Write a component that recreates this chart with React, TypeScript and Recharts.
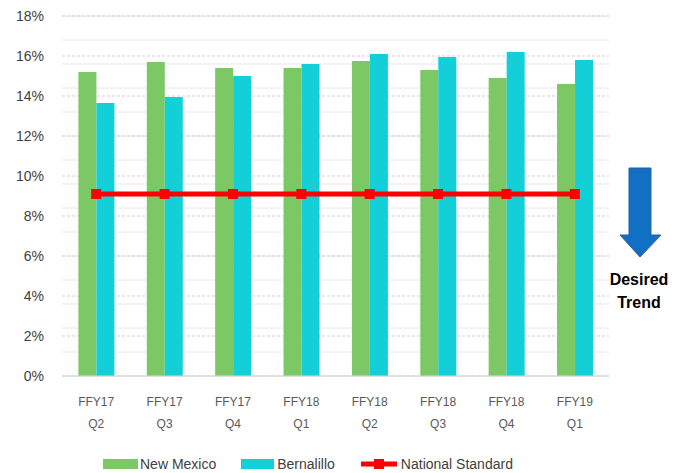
import React from 'react';
import { ComposedChart, Bar, Line, XAxis, YAxis, CartesianGrid, Legend, Customized } from 'recharts';

const quarters = ['FFY17 Q2', 'FFY17 Q3', 'FFY17 Q4', 'FFY18 Q1', 'FFY18 Q2', 'FFY18 Q3', 'FFY18 Q4', 'FFY19 Q1'];
const newMexico = [15.2, 15.7, 15.4, 15.4, 15.75, 15.3, 14.9, 14.6];
const bernalillo = [13.65, 13.95, 15.0, 15.6, 16.1, 15.95, 16.2, 15.8];
const nationalStandard = [9.1, 9.1, 9.1, 9.1, 9.1, 9.1, 9.1, 9.1];
const yTicks = [0, 2, 4, 6, 8, 10, 12, 14, 16, 18];

const GREEN = '#7cc864';
const CYAN = '#12cfd8';
const RED = '#ff0000';
const FONT = '"Liberation Sans", Arial, sans-serif';

const data = quarters.map((q, i) => ({
    name: q,
    nm: newMexico[i],
    bern: bernalillo[i],
    national: nationalStandard[i],
}));

// light minor grid every 0.4%
const minorGrid: number[] = [];
for (let i = 0; i <= 45; i++) minorGrid.push(Math.round(i * 0.4 * 10) / 10);

const QuarterTick = (props: any) => {
    const { x, y, payload } = props;
    const [fy, q] = String(payload.value).split(' ');
    return (
        <text x={x} y={y} textAnchor="middle" fill="#595959" fontSize={12} fontFamily={FONT}>
            <tspan x={x} dy={22}>{fy}</tspan>
            <tspan x={x} dy={22}>{q}</tspan>
        </text>
    );
};

const SquareDot = (props: any) => {
    const { cx, cy } = props;
    if (cx == null || cy == null) return null;
    return <rect x={cx - 5} y={cy - 5} width={10} height={10} fill={RED} />;
};

const LegendBox = () => (
    <div style={{ display: 'flex', alignItems: 'center', fontFamily: FONT, fontSize: 14, color: '#404040', paddingLeft: 91, paddingTop: 20 }}>
        <span style={{ display: 'inline-block', width: 35, height: 10, background: GREEN, marginRight: 2 }} />
        <span style={{ marginRight: 25 }}>New Mexico</span>
        <span style={{ display: 'inline-block', width: 33, height: 10, background: CYAN, marginRight: 3 }} />
        <span style={{ marginRight: 26 }}>Bernalillo</span>
        <svg width={36} height={12} style={{ marginRight: 4 }}>
            <line x1={0} y1={6} x2={36} y2={6} stroke={RED} strokeWidth={5} />
            <rect x={13} y={1} width={10} height={10} fill={RED} />
        </svg>
        <span>National Standard</span>
    </div>
);

const TrendArrow = () => (
    <g>
        <path d="M629,168 L651,168 L651,235 L661,235 L640,257 L620,235 L629,235 Z" fill="#1170c4" stroke="#2d5f99" strokeWidth={1} />
        <text x={639} y={285} textAnchor="middle" fontFamily={FONT} fontSize={16} fontWeight="bold" fill="#000">Desired</text>
        <text x={639} y={308} textAnchor="middle" fontFamily={FONT} fontSize={16} fontWeight="bold" fill="#000">Trend</text>
    </g>
);

export default function App() {
    return (
        <div style={{ position: 'absolute', left: 0, top: 0, width: 683, height: 473, background: '#fff' }}>
            <ComposedChart
                width={683}
                height={473}
                data={data}
                margin={{ top: 16, right: 74, left: 12, bottom: 0 }}
                barCategoryGap="24%"
                barGap={0}
            >
                <CartesianGrid vertical={false} horizontalValues={minorGrid} stroke="#e8e8e8" />
                <CartesianGrid vertical={false} horizontalValues={yTicks} stroke="#cfcfcf" strokeDasharray="3 2" />
                <XAxis
                    dataKey="name"
                    height={60}
                    tickLine={false}
                    axisLine={{ stroke: '#d9d9d9' }}
                    tick={<QuarterTick />}
                    interval={0}
                />
                <YAxis
                    width={50}
                    domain={[0, 18]}
                    ticks={yTicks}
                    tickFormatter={(v: number) => `${v}%`}
                    axisLine={false}
                    tickLine={false}
                    tickSize={0}
                    tickMargin={18}
                    tick={{ fill: '#404040', fontSize: 14, fontFamily: FONT }}
                />
                <Bar dataKey="nm" name="New Mexico" fill={GREEN} isAnimationActive={false} />
                <Bar dataKey="bern" name="Bernalillo" fill={CYAN} isAnimationActive={false} />
                <Line
                    dataKey="national"
                    name="National Standard"
                    stroke={RED}
                    strokeWidth={5}
                    dot={<SquareDot />}
                    activeDot={false}
                    isAnimationActive={false}
                />
                <Legend verticalAlign="bottom" content={<LegendBox />} wrapperStyle={{ height: 37 }} />
                <Customized component={<TrendArrow />} />
            </ComposedChart>
        </div>
    );
}
